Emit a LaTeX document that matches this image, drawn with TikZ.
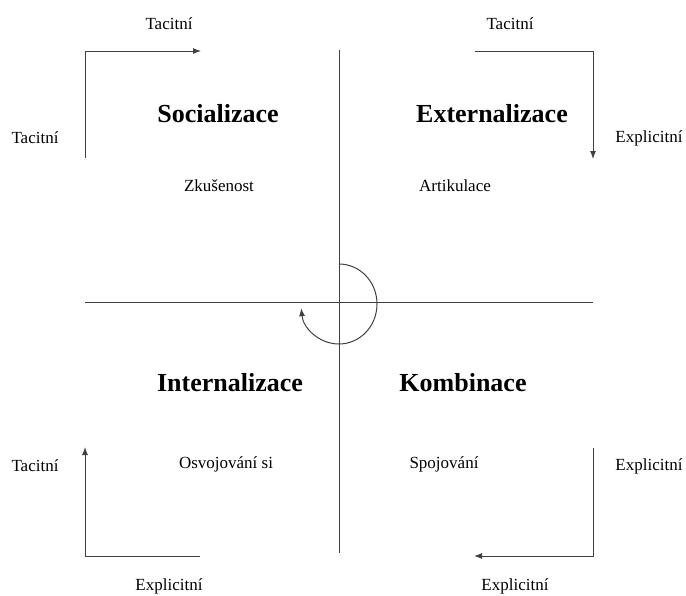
\documentclass[tikz,border=0pt]{standalone}
\usepackage{fontspec}
\setmainfont{Liberation Serif}
\usetikzlibrary{arrows.meta}
\begin{document}
\begin{tikzpicture}[x=1pt,y=-1pt,
  ln/.style={draw=black!75, line width=1pt},
  arr/.style={ln, -{Latex[length=8pt,width=6pt]}},
  lab/.style={font=\fontsize{17}{19}\selectfont, inner sep=0pt},
  title/.style={font=\fontsize{26}{29}\selectfont\bfseries, inner sep=0pt}]
\useasboundingbox (0,0) rectangle (686,595);
% axes
\coordinate (vt) at (339,50);
\coordinate (vb) at (339,553);
\coordinate (hl) at (85,302);
\coordinate (hr) at (593,302);
\draw[ln] (vt) -- (vb);
\draw[ln] (hl) -- (hr);
% cycle arc
\coordinate (c0) at (339,264);
\draw[arr] (c0) arc[start angle=-90, end angle=174, x radius=38, y radius=40];
% corner arrows
\coordinate (tl1) at (85,158); \coordinate (tl2) at (85,51); \coordinate (tl3) at (201,51);
\draw[arr] (tl1) -- (tl2) -- (tl3);
\coordinate (tr1) at (475,51); \coordinate (tr2) at (593,51); \coordinate (tr3) at (593,159);
\draw[arr] (tr1) -- (tr2) -- (tr3);
\coordinate (bl1) at (200,556); \coordinate (bl2) at (85,556); \coordinate (bl3) at (85,447);
\draw[arr] (bl1) -- (bl2) -- (bl3);
\coordinate (br1) at (593,448); \coordinate (br2) at (593,556); \coordinate (br3) at (474,556);
\draw[arr] (br1) -- (br2) -- (br3);
% labels
\node[lab] (t1) at (169,24) {Tacitní};
\node[lab] (t2) at (510,24) {Tacitní};
\node[lab] (t3) at (35,138) {Tacitní};
\node[lab] (t4) at (35,466) {Tacitní};
\node[lab] (e1) at (649,138) {Explicitní};
\node[lab] (e2) at (649,466) {Explicitní};
\node[lab] (e3) at (169,586) {Explicitní};
\node[lab] (e4) at (515,586) {Explicitní};
\node[title] (s) at (218,114) {Socializace};
\node[title] (x) at (492,114) {Externalizace};
\node[title] (i) at (230,383) {Internalizace};
\node[title] (k) at (463,383) {Kombinace};
\node[lab] (z) at (219,186) {Zkušenost};
\node[lab] (a) at (455,186) {Artikulace};
\node[lab] (o) at (226,464) {Osvojování si};
\node[lab] (p) at (444,464) {Spojování};
\end{tikzpicture}
\end{document}
